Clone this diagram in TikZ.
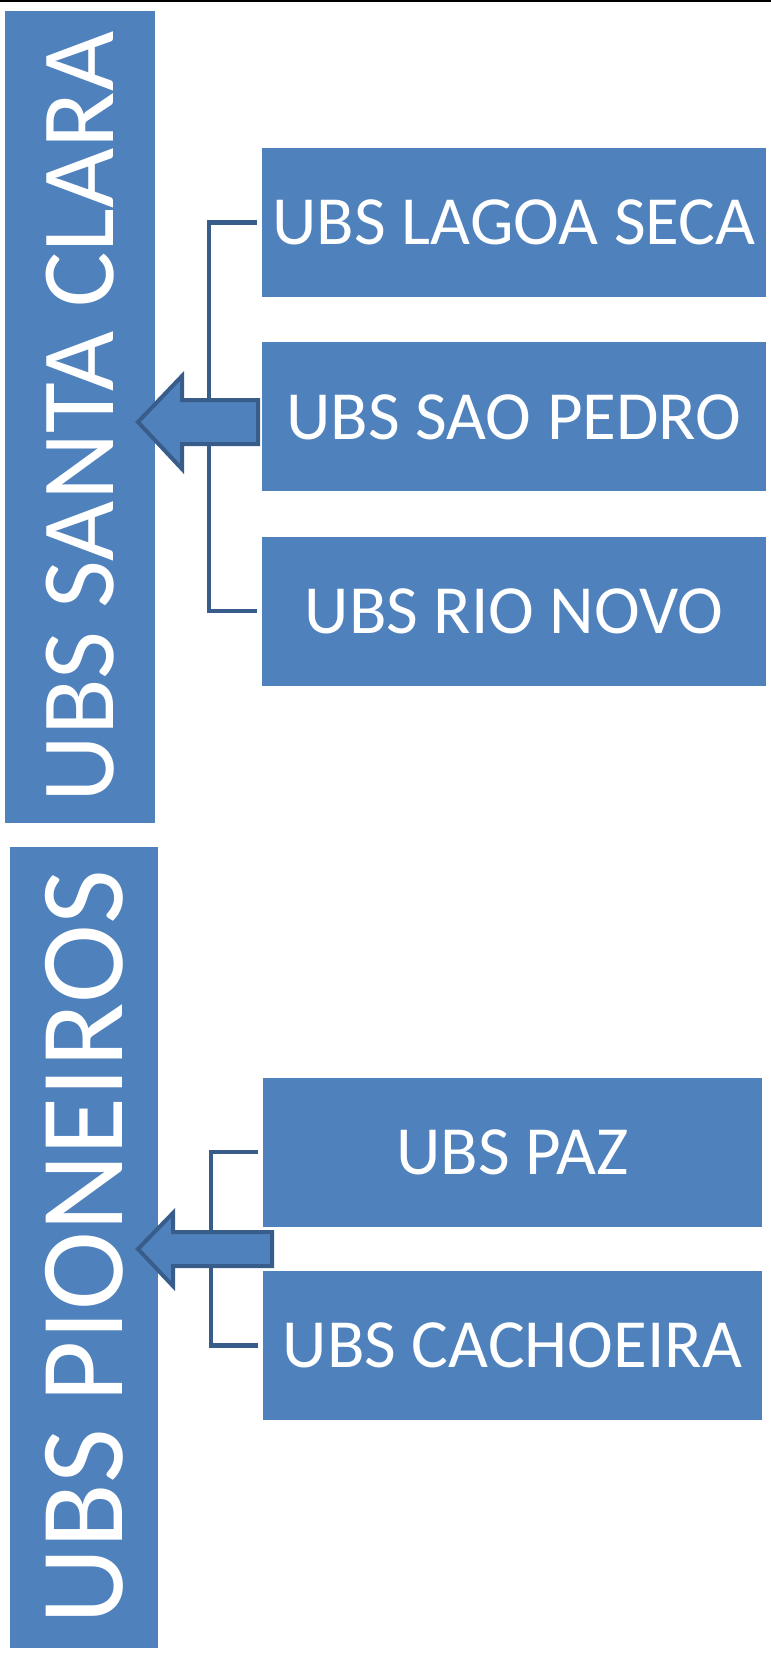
\documentclass[tikz,border=0pt]{standalone}
\usepackage{fontspec}
\setmainfont{Carlito}
\usetikzlibrary{positioning}
\definecolor{ubsblue}{HTML}{4F81BD}
\definecolor{ubsdark}{HTML}{385D8A}

\begin{document}
\begin{tikzpicture}[x=1pt, y=-1pt, node distance=45pt,
	bar/.style = {fill=ubsblue, text=white, inner sep=0pt, rotate=90},
	box/.style = {fill=ubsblue, text=white, inner sep=0pt, minimum height=149pt,
		font=\fontsize{69}{69}\selectfont},
	link/.style = {draw=ubsdark, line width=4.2pt},
	bigarrow/.style = {fill=ubsblue, draw=ubsdark, line width=4pt, line join=miter}]
		\useasboundingbox (0,0) rectangle (771,1663);
		\draw[line width=2pt] (0,1) -- (771,1);
		% UBS Santa Clara
		\node[bar, minimum width=812pt, minimum height=150pt,
			font=\fontsize{104}{104}\selectfont] (santa) at (80,417) {UBS SANTA CLARA};
		\node[box, minimum width=504pt] (lagoa) at (514,222.5) {UBS LAGOA SECA};
		\node[box, minimum width=504pt] (saopedro) [below=45pt of lagoa] {UBS SAO PEDRO};
		\node[box, minimum width=504pt] (rio) [below=45pt of saopedro] {UBS RIO NOVO};
		\draw[link] ([xshift=-5pt]lagoa.west) -- ++(-48,0) |- ([xshift=-5pt]rio.west);
		\draw[link] ([xshift=-5pt]saopedro.west) -- ++(-48,0);
		\draw[bigarrow] (258,400) -- (182,400) -- (182,376) -- (138,422) -- (182,469)
			-- (182,444) -- (258,444) -- cycle;
		% UBS Pioneiros
		\node[bar, minimum width=801pt, minimum height=148pt,
			font=\fontsize{119}{119}\selectfont] (pioneiros) at (84,1247.5) {UBS PIONEIROS};
		\node[box, minimum width=499pt] (paz) at (512.5,1152) {UBS PAZ};
		\node[box, minimum width=499pt] (cachoeira) [below=44pt of paz] {UBS CACHOEIRA};
		\draw[link] ([xshift=-5pt]paz.west) -- ++(-47,0) |- ([xshift=-5pt]cachoeira.west);
		\draw[bigarrow] (272,1232) -- (173,1232) -- (173,1213) -- (138,1249) -- (173,1286)
			-- (173,1266) -- (272,1266) -- cycle;
	\end{tikzpicture}
\end{document}
